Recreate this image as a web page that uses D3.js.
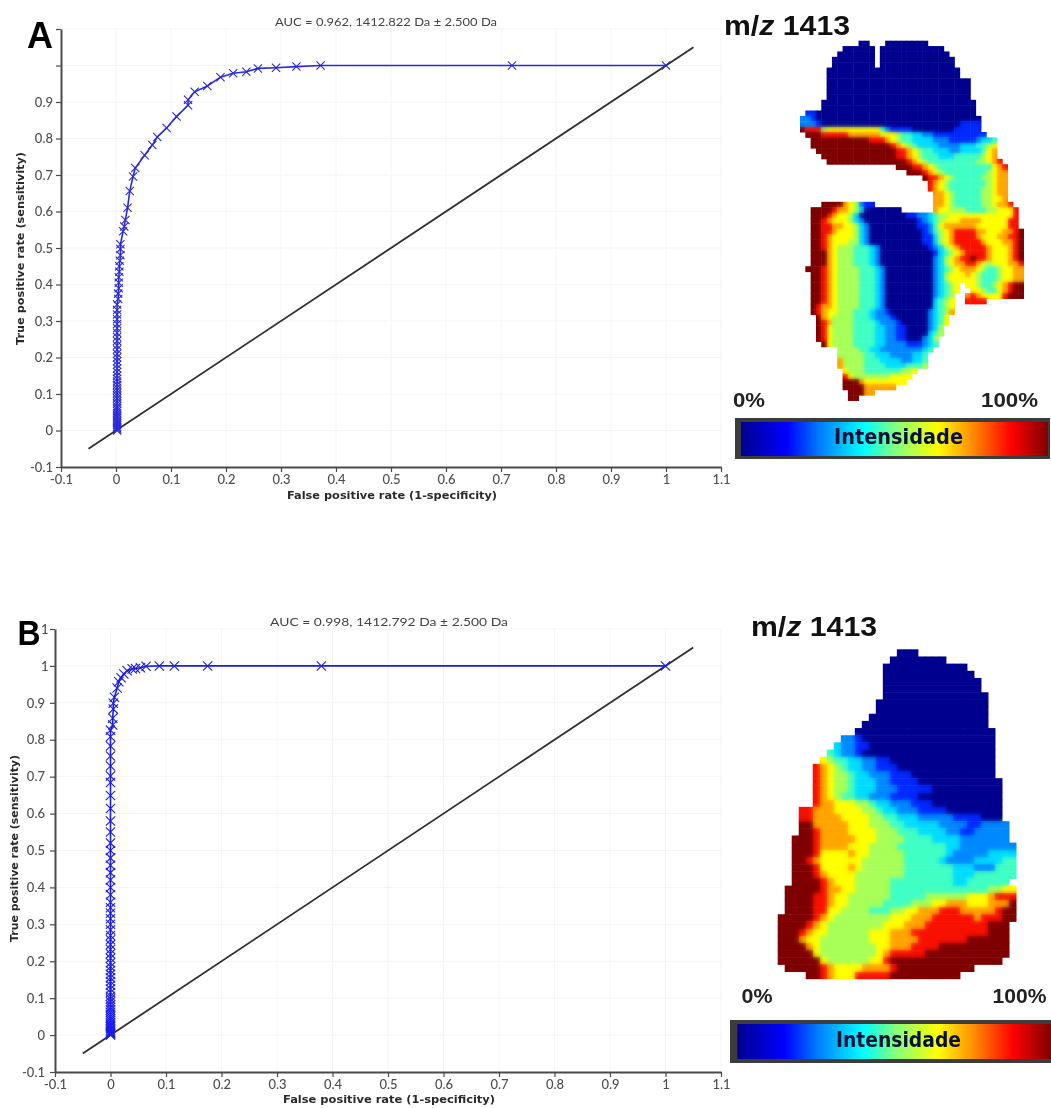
<!DOCTYPE html>
<html><head><meta charset="utf-8">
<script src="https://cdn.jsdelivr.net/npm/d3@7/dist/d3.min.js"></script>
<style>html,body{margin:0;background:#fff}svg{display:block;filter:blur(.4px)}</style></head>
<body><svg id="c" width="1051" height="1108"></svg>
<script>
const axisTicks=[-0.1,0,0.1,0.2,0.3,0.4,0.5,0.6,0.7,0.8,0.9,1,1.1];
const xLabels=["-0.1","0","0.1","0.2","0.3","0.4","0.5","0.6","0.7","0.8","0.9","1","1.1"];
const yLabelsA=["-0.1","0","0.1","0.2","0.3","0.4","0.5","0.6","0.7","0.8","0.9","",""];
const yLabelsB=["-0.1","0","0.1","0.2","0.3","0.4","0.5","0.6","0.7","0.8","0.9","1","1"];
const diagonal=[-0.05,1.05];
const fprA=[1,.72,.372,.328,.291,.258,.237,.213,.19,.166,.143,.131,.131,.11,.092,.075,.066,.052,.035,.031,.025,.021,.017,.015,.013,.008,.008,.008,.007,.006,.006,.005,.005,.005,.004,.004];
const tprA=[1,1,1,.997,.994,.992,.983,.979,.968,.944,.928,.906,.891,.86,.829,.804,.782,.754,.719,.696,.656,.61,.577,.559,.546,.51,.497,.48,.465,.45,.435,.42,.405,.39,.375,.36];
const tailFprA=.002;
const tailTprA=[.345,.33,.318,.305,.292,.28,.268,.256,.245,.233,.222,.21,.2,.19,.18,.17,.16,.15,.142,.134,.125,.117,.11,.102,.095,.088,.08,.073,.066,.06,.054,.048,.042,.036,.03,.025,.02,.015,.01,.006,.003,0];
const fprB=[1,.38,.175,.115,.088,.064,.054,.045,.039,.03,.024,.019,.015,.012,.007,.005,.005,.004,.004];
const tprB=[1,1,1,1,1,.999,.995,.993,.992,.987,.978,.968,.957,.94,.915,.899,.883,.858,.84];
const tailFprB=0;
const tailTprB=[.826,.808,.783,.756,.729,.702,.684,.649,.614,.58,.55,.52,.5,.48,.46,.44,.42,.4,.38,.36,.345,.33,.315,.3,.285,.27,.258,.245,.232,.22,.208,.196,.185,.175,.165,.155,.145,.135,.125,.115,.105,.098,.09,.082,.075,.068,.062,.056,.05,.045,.04,.035,.03,.026,.022,.018,.014,.01,.007,.004,.002,0];
// intensity maps: each row is a run list "<level><count>", "." = no tissue
const heatA=[
".11 02 .3 08",".8 06 .1 012",".7 07 .1 013",".6 08 .1 014",".6 08 .1 014",".5 025",".5 025",".5 027",".5 027",".5 027",".5 027",
".4 029",".4 029",".1 12 030","21 21 11 031","21 22 11 026 14",
"91 83 51 610 41 21 14 08 15",".1 93 85 76 63 51 42 32 22 110",".2 911 83 71 61 51 42 34 23 15 21 32 41",
".2 915 81 71 61 51 41 34 24 33 42 51 61",".3 915 82 71 61 51 42 33 22 34 41 61 71",".4 914 82 71 61 51 43 33 45 51 61 71",
".5 915 81 71 61 51 44 45 52 61 71 81",".18 93 82 71 61 51 45 45 61 71 81",".20 93 81 71 61 51 48 51 61 72",".23 91 82 71 61 51 45 52 61 72",
".24 81 71 61 51 47 51 61 72",".24 81 71 61 51 46 52 61 72",".25 72 61 51 45 52 61 72",".25 72 61 51 45 52 62 71",
".4 94 71 61 51 21 12 .11 72 61 51 45 52 61 72 81",".2 94 81 72 61 51 31 07 .6 71 62 53 44 52 63 81",
".2 93 81 71 62 51 31 09 12 22 31 41 52 612 81",".2 92 81 71 63 51 31 21 010 11 21 31 41 51 63 74 62 63 82",
".2 92 82 72 62 51 31 21 09 12 21 41 61 71 75 62 64 82",".2 92 82 71 63 51 31 21 010 11 21 41 51 61 71 81 83 71 71 63 72 81 91",
".2 92 81 71 64 51 31 21 010 12 31 51 61 71 84 71 63 72 82 91",".2 92 81 71 63 52 31 21 010 12 31 51 61 71 81 83 81 71 63 72 81 91",
".2 92 81 71 61 53 43 31 21 09 11 21 31 51 61 71 81 83 81 71 63 71 81 91",".2 93 71 61 53 43 31 21 010 11 31 41 51 61 71 81 82 81 71 63 71 81 91",
".2 93 71 61 53 43 31 21 010 21 31 51 61 71 82 91 82 71 63 71 81 91",".2 93 71 61 53 43 31 21 010 21 31 51 61 72 82 71 61 51 63 72 81",
".1 93 81 71 61 54 43 31 21 09 21 31 41 51 61 71 72 61 51 42 51 62 72",".2 92 81 71 61 54 43 31 21 09 21 31 51 61 62 71 61 51 43 51 62 72",
".2 92 81 71 61 54 43 31 21 09 21 31 51 61 63 61 51 43 51 62 72",".2 92 81 71 61 54 43 31 21 09 21 31 41 51 61 .1 62 51 42 51 61 71 81 92",
".2 92 81 71 61 54 43 31 21 09 21 31 41 51 61 .2 62 51 42 61 71 81 92",".2 92 81 71 61 54 43 31 21 09 21 31 41 51 .2 71 81 71 64 81 93",
".2 92 81 71 61 54 43 31 21 09 31 41 51 61 .2 84",".2 91 81 72 61 54 43 31 21 09 31 41 51 61",".2 91 81 71 62 53 42 41 31 22 11 07 21 31 41 51 71",
".3 91 71 61 54 42 41 31 23 11 06 21 31 41 61",".3 91 81 71 54 42 42 31 23 11 05 21 31 41 61",".3 91 81 61 54 42 42 32 22 12 04 21 31 51",".3 91 81 61 54 42 42 32 22 12 04 31 41 51",
".3 91 81 61 54 42 42 32 22 12 03 21 31 51",".4 91 61 54 42 42 32 24 13 21 31 41",".7 54 42 32 28 31 41",".7 55 42 33 24 32 41",".7 71 54 43 34 22 32 41",".7 71 54 44 34 43 51",
".8 61 53 47 52 61",".8 81 61 57 64",".8 93 71 68",".8 94 72 74",".9 93 72",".9 92"];
const heatB=[
".17 03",".16 08",".15 012",".15 013",".15 014",".15 014",".15 015",".14 016",".14 016",".13 017",".12 018",".11 020",".9 22 11 019",".8 31 22 12 018",".7 41 31 22 11 019",
".6 61 51 42 32 22 12 015",".5 81 71 61 51 41 32 22 13 014",".5 81 71 61 52 41 32 23 13 012",".5 81 71 61 52 41 33 22 14 012",".5 81 71 61 52 41 33 23 15 010",
".5 81 71 61 51 42 32 23 14 012",".5 81 72 63 52 41 32 23 13 010",".3 82 71 72 64 52 41 32 23 14 08",".3 82 74 64 52 42 33 25 14 03",".3 92 71 74 63 53 42 35 24 12 24",
".3 92 81 74 64 53 43 34 22 12 25",".2 93 81 75 63 54 44 34 27",".2 93 81 74 63 54 47 32 28",".2 93 81 64 71 62 55 46 31 25 34",".2 92 81 71 65 61 56 45 31 24 34 42",
".2 93 81 64 71 61 56 47 33 23 44",".2 93 81 71 63 61 57 47 33 46",".2 94 81 71 63 55 49 32 46",".1 95 81 72 62 55 414 52 62",".1 94 82 71 62 56 45 56 63 71 81 82",
".1 94 82 71 62 55 44 53 62 73 63 71 72 91",".1 94 82 62 54 43 52 62 73 83 75 81 92","95 81 71 61 55 53 63 73 86 71 83 92","94 81 71 61 58 63 73 86 83 93",
"93 81 71 62 56 63 73 88 83 93","93 71 62 57 63 74 87 96","94 71 61 58 62 73 84 910","95 61 58 61 71 85 912","96 61 56 62 81 916",".1 95 81 71 64 74 81 911",".4 92 81 71 63 84 81 910"];
const levels=[0,1,2,3,4,5,6,7,8,9];
const levelColors=["#00008f","#0028ff","#0088ff","#00dcff","#40ffc4","#a8ff58","#ffff00","#ffa400","#f81000","#7e0000"];
const barStops=[0,.15,.26,.4,.5,.64,.75,.88,1];
const barColors=["#00008f","#0000ff","#0080ff","#00ffff","#80ff80","#ffff00","#ff9000","#ff0000","#800000"];

const svg=d3.select("#c");
const defs=svg.append("defs");
const TICK="Lato, 'Open Sans', sans-serif";
function roc(o){
  const x=d3.scaleLinear().domain([-0.1,1.1]).range(o.xr);
  const y=d3.scaleLinear().domain([-0.1,1.1]).range(o.yr);
  const g=svg.append("g").attr("class","roc");
  g.append("g").selectAll("line").data(axisTicks.slice(1)).join("line")
    .attr("x1",d=>x(d)).attr("x2",d=>x(d)).attr("y1",o.yr[0]).attr("y2",o.yr[1]).attr("stroke","#f4f4f4");
  g.append("g").selectAll("line").data(axisTicks.slice(1)).join("line")
    .attr("y1",d=>y(d)).attr("y2",d=>y(d)).attr("x1",o.xr[0]).attr("x2",o.xr[1]).attr("stroke","#f4f4f4");
  const ax=g.append("g").attr("transform",`translate(0,${o.yr[0]})`)
    .call(d3.axisBottom(x).tickValues(axisTicks).tickFormat((d,i)=>xLabels[i]).tickSize(5).tickSizeOuter(0));
  const ay=g.append("g").attr("transform",`translate(${o.xr[0]},0)`)
    .call(d3.axisLeft(y).tickValues(axisTicks).tickFormat((d,i)=>o.yLabels[i]).tickSize(5).tickPadding(o.yPad).tickSizeOuter(0));
  [ax,ay].forEach(a=>{a.select(".domain").attr("stroke","#4a4a4a").attr("stroke-width",2);
    a.selectAll(".tick line").attr("stroke","#4a4a4a").attr("stroke-width",1.2);
    a.selectAll("text").attr("fill","#4e4e4e").attr("font-family",TICK).attr("font-size",13).attr("font-weight",500);});
  ax.selectAll("text").attr("dy","0.7em");
  if(o.yPad>3) ay.selectAll(".tick text").filter(d=>d>=1).attr("dx",3.5);
  g.append("line").attr("x1",x(diagonal[0])).attr("y1",y(diagonal[0])).attr("x2",x(diagonal[1])).attr("y2",y(diagonal[1]))
    .attr("stroke","#2e2e2e").attr("stroke-width",1.8);
  const pts=d3.zip(o.fpr,o.tpr).concat(o.tail.map(t=>[o.tailFpr,t]));
  g.append("path").datum(pts).attr("fill","none").attr("stroke",o.col).attr("stroke-width",1.6)
    .attr("d",d3.line().x(d=>x(d[0])).y(d=>y(d[1])));
  g.append("g").selectAll("path").data(pts).join("path")
    .attr("transform",d=>`translate(${x(d[0])},${y(d[1])})`)
    .attr("d",d3.symbol(d3.symbolTimes,o.ms)).attr("fill","none").attr("stroke",o.col).attr("stroke-width",1.1);
  g.append("text").text(o.title).attr("x",o.titleX).attr("y",o.titleY).attr("textLength",o.titleW).attr("lengthAdjust","spacingAndGlyphs")
    .attr("text-anchor","start").attr("font-family",TICK).attr("font-size",12).attr("fill","#444");
  g.append("text").text("False positive rate (1-specificity)").attr("x",o.xt[0]).attr("y",o.xt[1]).attr("textLength",o.xt[2]).attr("lengthAdjust","spacingAndGlyphs")
    .attr("font-family","'DejaVu Sans',sans-serif").attr("font-weight",700).attr("font-size",10).attr("fill","#2a2a2a");
  g.append("text").text("True positive rate (sensitivity)").attr("transform",`translate(${o.yt[0]},${o.yt[1]}) rotate(-90)`).attr("textLength",o.yt[2]).attr("lengthAdjust","spacingAndGlyphs")
    .attr("font-family","'DejaVu Sans',sans-serif").attr("font-weight",700).attr("font-size",10).attr("fill","#2a2a2a");
  svg.append("text").text(o.letter).attr("x",o.lx).attr("y",o.ly).attr("font-family","'Liberation Sans',sans-serif").attr("font-weight",700).attr("font-size",o.ls).attr("textLength",o.lw).attr("lengthAdjust","spacingAndGlyphs").attr("fill","#000");
}
roc({xr:[61,721],yr:[467,29],yLabels:yLabelsA,yPad:3,fpr:fprA,tpr:tprA,tail:tailTprA,tailFpr:tailFprA,col:"#2a2ad8",ms:46,
  title:"AUC = 0.962, 1412.822 Da \u00b1 2.500 Da",titleX:275,titleY:26,titleW:222,xt:[287,499,210],yt:[24,345,193],letter:"A",lx:27,ly:48,ls:36,lw:26});
roc({xr:[55,721],yr:[1072,629],yLabels:yLabelsB,yPad:5,fpr:fprB,tpr:tprB,tail:tailTprB,tailFpr:tailFprB,col:"#1c1ce8",ms:58,
  title:"AUC = 0.998, 1412.792 Da \u00b1 2.500 Da",titleX:270,titleY:626,titleW:238,xt:[283,1103,212],yt:[18,942,187],letter:"B",lx:17.5,ly:645,ls:35,lw:23});

function expand(r){const out=[];r.split(" ").forEach(t=>{const n=+t.slice(1);for(let i=0;i<n;i++)out.push(t[0]);});return out;}
function heat(id,rows,nc,x0,x1,y0,y1,sd){
  const X=d3.scaleBand().domain(d3.range(nc)).range([x0,x1]);
  const Y=d3.scaleBand().domain(d3.range(rows.length)).range([y0,y1]);
  const color=d3.scaleOrdinal().domain(levels).range(levelColors);
  const cells=[];rows.forEach((r,j)=>expand(r).forEach((c,i)=>{if(c!=="."&&i<nc)cells.push({i,j,v:+c});}));
  const draw=s=>s.selectAll("rect").data(cells).join("rect")
    .attr("x",d=>X(d.i)).attr("y",d=>Y(d.j)).attr("width",X.bandwidth()+.5).attr("height",Y.bandwidth()+.5).attr("fill",d=>color(d.v));
  defs.append("clipPath").attr("id","clip"+id).call(draw);
  const f=defs.append("filter").attr("id","soft"+id).attr("x","-10%").attr("y","-10%").attr("width","120%").attr("height","120%").attr("color-interpolation-filters","sRGB");
  f.append("feGaussianBlur").attr("stdDeviation",sd);
  f.append("feComponentTransfer").append("feFuncA").attr("type","linear").attr("slope",60);
  const outer=svg.append("g").attr("clip-path",`url(#clip${id})`).attr("shape-rendering","crispEdges");
  outer.append("g").attr("filter",`url(#soft${id})`).call(draw);
  outer.append("g").attr("opacity",.22).call(draw);
}
heat("A",heatA,42,800,1023.5,40.7,400.5,2.1);
heat("B",heatB,34,777.7,1016,649.3,978.7,2.6);

function mz(x,y){const t=svg.append("text").attr("x",x).attr("y",y).attr("font-family","'Liberation Sans',sans-serif").attr("font-weight",700).attr("font-size",27).attr("fill","#111").attr("textLength",126).attr("lengthAdjust","spacingAndGlyphs");
  t.append("tspan").text("m/");t.append("tspan").attr("font-style","italic").text("z");t.append("tspan").text(" 1413");}
mz(724,35);mz(751,636);
function bar(id,f,g,tx,ty,tw,p0,p100){
  const gr=defs.append("linearGradient").attr("id",id);
  gr.selectAll("stop").data(barStops).join("stop").attr("offset",d=>d).attr("stop-color",(d,i)=>barColors[i]);
  svg.append("rect").attr("x",f[0]).attr("y",f[1]).attr("width",f[2]).attr("height",f[3]).attr("fill","#3c3c3c");
  svg.append("rect").attr("x",g[0]).attr("y",g[1]).attr("width",g[2]).attr("height",g[3]).attr("fill",`url(#${id})`);
  svg.append("text").text("Intensidade").attr("x",tx).attr("y",ty).attr("textLength",tw).attr("lengthAdjust","spacingAndGlyphs")
    .attr("font-family","'DejaVu Sans',sans-serif").attr("font-weight",700).attr("font-size",21).attr("fill","#05103a");
  [["0%"].concat(p0),["100%"].concat(p100)].forEach(p=>svg.append("text").text(p[0]).attr("x",p[1]).attr("y",p[2]).attr("textLength",p[3]).attr("lengthAdjust","spacingAndGlyphs")
    .attr("font-family","'Liberation Sans',sans-serif").attr("font-weight",700).attr("font-size",21).attr("fill","#222"));
}
bar("ga",[735,418,315,41],[741,422,307,34],834,444,129,[733,406.5,32],[981,406.5,57]);
bar("gb",[730,1020,321,43],[737.3,1024,313.7,35],836,1047,125,[741.5,1003,31],[992.5,1003,54]);
</script></body></html>
